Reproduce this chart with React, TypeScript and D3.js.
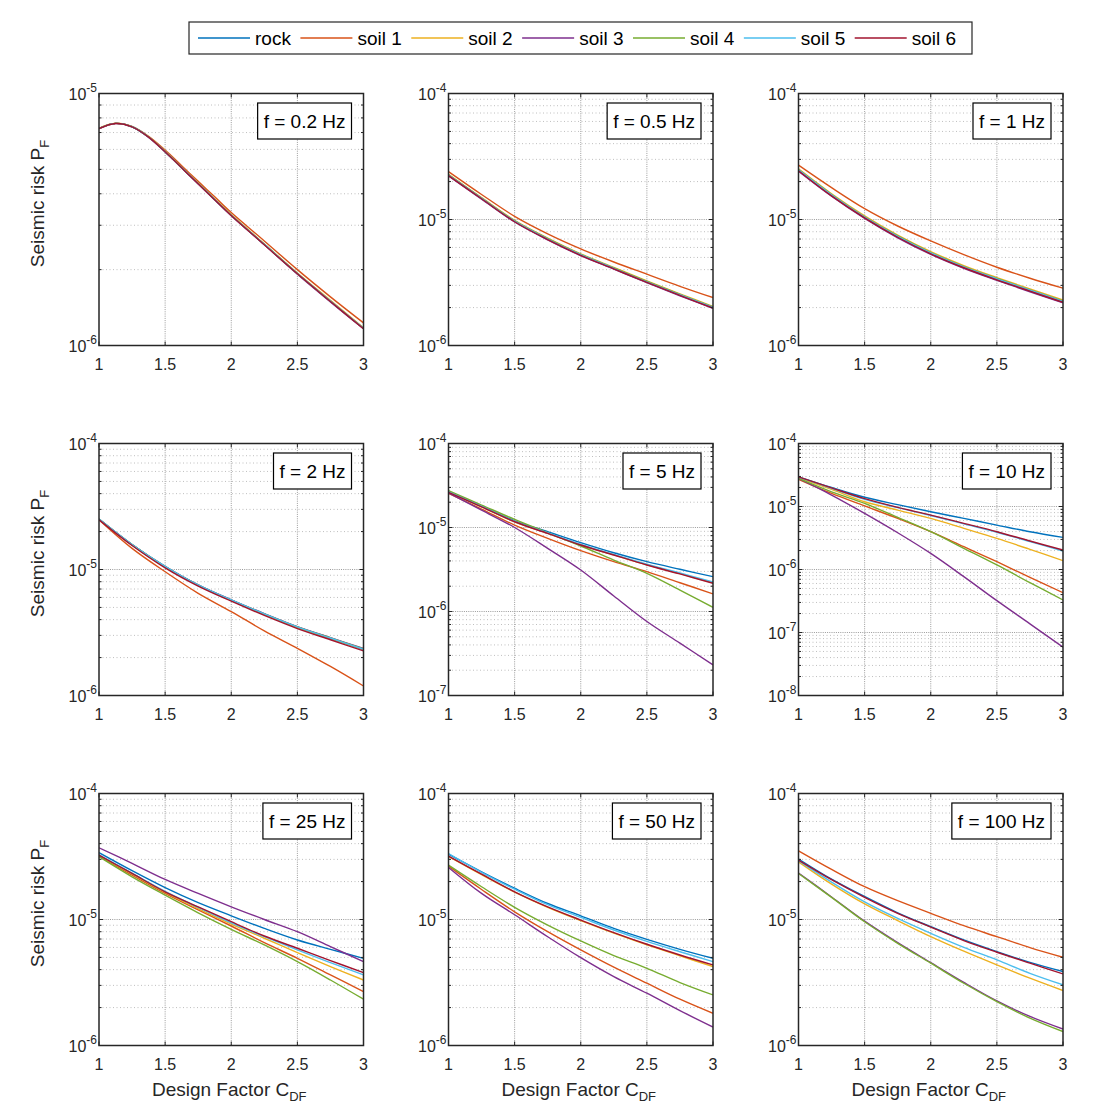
import React, { useEffect, useRef } from 'react';
import * as d3 from 'd3';

const SERIES = ['rock', 'soil 1', 'soil 2', 'soil 3', 'soil 4', 'soil 5', 'soil 6'];
const COLORS = ['#0072BD', '#D95319', '#EDB120', '#7E2F8E', '#77AC30', '#4DBEEE', '#A2142F'];

const CDF = [1, 1.25, 1.5, 1.75, 2, 2.25, 2.5, 2.75, 3];
const CDF_02 = [1, 1.125, 1.25, 1.375, 1.5, 1.625, 1.75, 1.875, 2, 2.25, 2.5, 2.75, 3];
const X_TICKS = [1, 1.5, 2, 2.5, 3];

const FREQ_LABELS = ['f = 0.2 Hz', 'f = 0.5 Hz', 'f = 1 Hz', 'f = 2 Hz', 'f = 5 Hz', 'f = 10 Hz', 'f = 25 Hz', 'f = 50 Hz', 'f = 100 Hz'];
const Y_MIN_EXP = [-6, -6, -6, -6, -7, -8, -6, -6, -6];
const Y_MAX_EXP = [-5, -4, -4, -4, -4, -4, -4, -4, -4];

// series order: rock, soil1 ... soil6
const PF_02HZ = [
  [7.27e-6, 7.61e-6, 7.38e-6, 6.72e-6, 5.88e-6, 5.08e-6, 4.39e-6, 3.8e-6, 3.29e-6, 2.52e-6, 1.93e-6, 1.5e-6, 1.17e-6],
  [7.27e-6, 7.61e-6, 7.4e-6, 6.76e-6, 5.96e-6, 5.17e-6, 4.48e-6, 3.89e-6, 3.37e-6, 2.6e-6, 2.0e-6, 1.56e-6, 1.23e-6],
  [7.28e-6, 7.62e-6, 7.39e-6, 6.74e-6, 5.9e-6, 5.1e-6, 4.41e-6, 3.82e-6, 3.31e-6, 2.53e-6, 1.94e-6, 1.51e-6, 1.175e-6],
  [7.26e-6, 7.6e-6, 7.37e-6, 6.7e-6, 5.86e-6, 5.06e-6, 4.37e-6, 3.78e-6, 3.27e-6, 2.51e-6, 1.92e-6, 1.49e-6, 1.165e-6],
  [7.27e-6, 7.61e-6, 7.38e-6, 6.72e-6, 5.88e-6, 5.08e-6, 4.39e-6, 3.8e-6, 3.29e-6, 2.52e-6, 1.93e-6, 1.5e-6, 1.17e-6],
  [7.27e-6, 7.61e-6, 7.38e-6, 6.72e-6, 5.88e-6, 5.08e-6, 4.39e-6, 3.8e-6, 3.29e-6, 2.52e-6, 1.93e-6, 1.5e-6, 1.17e-6],
  [7.26e-6, 7.6e-6, 7.37e-6, 6.71e-6, 5.87e-6, 5.07e-6, 4.38e-6, 3.79e-6, 3.28e-6, 2.51e-6, 1.925e-6, 1.495e-6, 1.165e-6],
];
const PF_05HZ = [
  [2.25e-5, 1.47e-5, 9.7e-6, 7.0e-6, 5.25e-6, 4.1e-6, 3.2e-6, 2.52e-6, 2.0e-6],
  [2.4e-5, 1.58e-5, 1.06e-5, 7.7e-6, 5.85e-6, 4.6e-6, 3.68e-6, 2.95e-6, 2.4e-6],
  [2.28e-5, 1.49e-5, 9.85e-6, 7.12e-6, 5.34e-6, 4.17e-6, 3.26e-6, 2.57e-6, 2.04e-6],
  [2.22e-5, 1.45e-5, 9.55e-6, 6.9e-6, 5.17e-6, 4.04e-6, 3.15e-6, 2.48e-6, 1.97e-6],
  [2.26e-5, 1.48e-5, 9.75e-6, 7.05e-6, 5.29e-6, 4.13e-6, 3.22e-6, 2.54e-6, 2.02e-6],
  [2.25e-5, 1.47e-5, 9.7e-6, 7.0e-6, 5.26e-6, 4.1e-6, 3.2e-6, 2.53e-6, 2.01e-6],
  [2.23e-5, 1.46e-5, 9.6e-6, 6.93e-6, 5.2e-6, 4.06e-6, 3.17e-6, 2.5e-6, 1.98e-6],
];
const PF_1HZ = [
  [2.47e-5, 1.56e-5, 1.04e-5, 7.31e-6, 5.4e-6, 4.18e-6, 3.36e-6, 2.73e-6, 2.23e-6],
  [2.7e-5, 1.79e-5, 1.22e-5, 8.88e-6, 6.76e-6, 5.26e-6, 4.18e-6, 3.42e-6, 2.85e-6],
  [2.52e-5, 1.6e-5, 1.07e-5, 7.52e-6, 5.56e-6, 4.31e-6, 3.46e-6, 2.81e-6, 2.3e-6],
  [2.42e-5, 1.53e-5, 1.02e-5, 7.16e-6, 5.29e-6, 4.1e-6, 3.29e-6, 2.67e-6, 2.18e-6],
  [2.49e-5, 1.58e-5, 1.05e-5, 7.4e-6, 5.47e-6, 4.23e-6, 3.4e-6, 2.76e-6, 2.26e-6],
  [2.48e-5, 1.57e-5, 1.045e-5, 7.35e-6, 5.43e-6, 4.2e-6, 3.38e-6, 2.75e-6, 2.24e-6],
  [2.44e-5, 1.54e-5, 1.03e-5, 7.23e-6, 5.34e-6, 4.14e-6, 3.32e-6, 2.7e-6, 2.2e-6],
];
const PF_2HZ = [
  [2.5e-5, 1.57e-5, 1.05e-5, 7.5e-6, 5.7e-6, 4.42e-6, 3.48e-6, 2.84e-6, 2.32e-6],
  [2.48e-5, 1.47e-5, 9.6e-6, 6.47e-6, 4.63e-6, 3.26e-6, 2.37e-6, 1.7e-6, 1.19e-6],
  [2.5e-5, 1.57e-5, 1.05e-5, 7.48e-6, 5.68e-6, 4.41e-6, 3.46e-6, 2.83e-6, 2.31e-6],
  [2.52e-5, 1.58e-5, 1.06e-5, 7.55e-6, 5.75e-6, 4.47e-6, 3.52e-6, 2.88e-6, 2.36e-6],
  [2.51e-5, 1.575e-5, 1.055e-5, 7.52e-6, 5.72e-6, 4.44e-6, 3.5e-6, 2.86e-6, 2.34e-6],
  [2.51e-5, 1.58e-5, 1.06e-5, 7.54e-6, 5.73e-6, 4.45e-6, 3.51e-6, 2.86e-6, 2.33e-6],
  [2.48e-5, 1.55e-5, 1.03e-5, 7.38e-6, 5.6e-6, 4.32e-6, 3.4e-6, 2.77e-6, 2.26e-6],
];
const PF_5HZ = [
  [2.67e-5, 1.8e-5, 1.2e-5, 8.9e-6, 6.6e-6, 5.0e-6, 3.92e-6, 3.18e-6, 2.6e-6],
  [2.55e-5, 1.66e-5, 1.07e-5, 7.43e-6, 5.3e-6, 3.92e-6, 2.98e-6, 2.2e-6, 1.62e-6],
  [2.63e-5, 1.76e-5, 1.17e-5, 8.5e-6, 6.2e-6, 4.72e-6, 3.6e-6, 2.82e-6, 2.2e-6],
  [2.59e-5, 1.61e-5, 1.0e-5, 5.65e-6, 3.12e-6, 1.53e-6, 7.6e-7, 4.2e-7, 2.32e-7],
  [2.74e-5, 1.85e-5, 1.25e-5, 8.67e-6, 6.02e-6, 4.1e-6, 2.85e-6, 1.8e-6, 1.12e-6],
  [2.65e-5, 1.78e-5, 1.18e-5, 8.6e-6, 6.3e-6, 4.78e-6, 3.66e-6, 2.88e-6, 2.25e-6],
  [2.62e-5, 1.76e-5, 1.17e-5, 8.5e-6, 6.19e-6, 4.7e-6, 3.58e-6, 2.8e-6, 2.17e-6],
];
const PF_10HZ = [
  [2.96e-5, 2.0e-5, 1.4e-5, 1.07e-5, 8.26e-6, 6.47e-6, 5.07e-6, 3.98e-6, 3.24e-6],
  [2.7e-5, 1.61e-5, 1.02e-5, 6.47e-6, 3.98e-6, 2.3e-6, 1.33e-6, 7.5e-7, 4.29e-7],
  [2.85e-5, 1.87e-5, 1.19e-5, 8.77e-6, 6.47e-6, 4.5e-6, 3.12e-6, 2.09e-6, 1.38e-6],
  [2.79e-5, 1.52e-5, 7.77e-6, 3.83e-6, 1.8e-6, 7.7e-7, 3.2e-7, 1.37e-7, 5.84e-8],
  [2.79e-5, 1.71e-5, 1.12e-5, 6.71e-6, 3.98e-6, 2.17e-6, 1.18e-6, 6.18e-7, 3.29e-7],
  [2.93e-5, 1.95e-5, 1.3e-5, 9.6e-6, 7.2e-6, 5.3e-6, 3.9e-6, 2.78e-6, 1.96e-6],
  [2.96e-5, 1.97e-5, 1.33e-5, 9.67e-6, 7.31e-6, 5.4e-6, 3.98e-6, 2.83e-6, 2.04e-6],
];
const PF_25HZ = [
  [3.39e-5, 2.44e-5, 1.79e-5, 1.36e-5, 1.07e-5, 8.5e-6, 6.88e-6, 5.8e-6, 4.92e-6],
  [3.2e-5, 2.25e-5, 1.61e-5, 1.19e-5, 8.88e-6, 6.55e-6, 4.92e-6, 3.63e-6, 2.68e-6],
  [3.22e-5, 2.3e-5, 1.64e-5, 1.22e-5, 9.2e-6, 7.1e-6, 5.46e-6, 4.23e-6, 3.31e-6],
  [3.71e-5, 2.79e-5, 2.08e-5, 1.61e-5, 1.26e-5, 1.0e-5, 8.0e-6, 6.09e-6, 4.63e-6],
  [3.15e-5, 2.18e-5, 1.56e-5, 1.13e-5, 8.35e-6, 6.28e-6, 4.63e-6, 3.31e-6, 2.33e-6],
  [3.26e-5, 2.33e-5, 1.67e-5, 1.25e-5, 9.4e-6, 7.3e-6, 5.73e-6, 4.55e-6, 3.63e-6],
  [3.24e-5, 2.32e-5, 1.66e-5, 1.26e-5, 9.6e-6, 7.4e-6, 5.91e-6, 4.72e-6, 3.79e-6],
];
const PF_50HZ = [
  [3.3e-5, 2.39e-5, 1.77e-5, 1.34e-5, 1.07e-5, 8.5e-6, 6.96e-6, 5.8e-6, 4.92e-6],
  [2.65e-5, 1.73e-5, 1.15e-5, 8.0e-6, 5.73e-6, 4.18e-6, 3.12e-6, 2.33e-6, 1.8e-6],
  [3.17e-5, 2.27e-5, 1.65e-5, 1.25e-5, 9.8e-6, 7.8e-6, 6.3e-6, 5.15e-6, 4.23e-6],
  [2.59e-5, 1.61e-5, 1.09e-5, 7.3e-6, 4.98e-6, 3.52e-6, 2.6e-6, 1.89e-6, 1.4e-6],
  [2.7e-5, 1.82e-5, 1.25e-5, 9.04e-6, 6.76e-6, 5.17e-6, 4.1e-6, 3.16e-6, 2.52e-6],
  [3.34e-5, 2.37e-5, 1.74e-5, 1.31e-5, 1.04e-5, 8.25e-6, 6.7e-6, 5.55e-6, 4.63e-6],
  [3.19e-5, 2.29e-5, 1.66e-5, 1.26e-5, 9.9e-6, 7.87e-6, 6.36e-6, 5.23e-6, 4.36e-6],
];
const PF_100HZ = [
  [3.02e-5, 2.09e-5, 1.52e-5, 1.13e-5, 8.77e-6, 6.88e-6, 5.56e-6, 4.57e-6, 3.86e-6],
  [3.51e-5, 2.5e-5, 1.82e-5, 1.41e-5, 1.12e-5, 8.93e-6, 7.31e-6, 5.98e-6, 5.01e-6],
  [2.87e-5, 1.91e-5, 1.33e-5, 9.8e-6, 7.31e-6, 5.6e-6, 4.36e-6, 3.42e-6, 2.73e-6],
  [2.34e-5, 1.51e-5, 9.7e-6, 6.55e-6, 4.55e-6, 3.17e-6, 2.26e-6, 1.7e-6, 1.35e-6],
  [2.32e-5, 1.5e-5, 9.6e-6, 6.47e-6, 4.5e-6, 3.12e-6, 2.23e-6, 1.65e-6, 1.29e-6],
  [2.93e-5, 1.98e-5, 1.38e-5, 1.02e-5, 7.77e-6, 6.01e-6, 4.78e-6, 3.74e-6, 3.03e-6],
  [2.96e-5, 2.07e-5, 1.5e-5, 1.12e-5, 8.7e-6, 6.8e-6, 5.5e-6, 4.5e-6, 3.7e-6],
];

const PANEL_DATA = [PF_02HZ, PF_05HZ, PF_1HZ, PF_2HZ, PF_5HZ, PF_10HZ, PF_25HZ, PF_50HZ, PF_100HZ];
const PANEL_X = [CDF_02, CDF, CDF, CDF, CDF, CDF, CDF, CDF, CDF];

const FONT = '"Liberation Sans", Arial, Helvetica, sans-serif';
const INK = '#262626';

export default function App() {
  const ref = useRef<SVGSVGElement | null>(null);

  useEffect(() => {
    const svg = d3.select(ref.current);
    svg.selectAll('*').remove();

    const COL_X = [99, 448.5, 798.5];
    const ROW_Y = [93.5, 443.5, 793.5];
    const PW = 264.5;
    const PH = 252;

    const defs = svg.append('defs');

    PANEL_DATA.forEach((data, i) => {
      const col = i % 3;
      const row = Math.floor(i / 3);
      const x0 = COL_X[col];
      const y0 = ROW_Y[row];
      const minE = Y_MIN_EXP[i];
      const maxE = Y_MAX_EXP[i];
      const xs = d3.scaleLinear().domain([1, 3]).range([x0, x0 + PW]);
      const ys = d3.scaleLog().domain([Math.pow(10, minE), Math.pow(10, maxE)]).range([y0 + PH, y0]);
      const g = svg.append('g');

      g.append('rect').attr('x', x0).attr('y', y0).attr('width', PW).attr('height', PH).attr('fill', '#fff');

      // minor grid
      for (let e = minE; e < maxE; e++) {
        for (let m = 2; m <= 9; m++) {
          const y = ys(m * Math.pow(10, e));
          g.append('line').attr('x1', x0).attr('x2', x0 + PW).attr('y1', y).attr('y2', y)
            .attr('stroke', '#b8b8b8').attr('stroke-width', 0.9).attr('stroke-dasharray', '1,2.5');
        }
      }
      // major grid
      for (let e = minE + 1; e < maxE; e++) {
        const y = ys(Math.pow(10, e));
        g.append('line').attr('x1', x0).attr('x2', x0 + PW).attr('y1', y).attr('y2', y)
          .attr('stroke', '#9a9a9a').attr('stroke-width', 1).attr('stroke-dasharray', '1,1.2');
      }
      X_TICKS.slice(1, -1).forEach((t) => {
        const x = xs(t);
        g.append('line').attr('x1', x).attr('x2', x).attr('y1', y0).attr('y2', y0 + PH)
          .attr('stroke', '#9a9a9a').attr('stroke-width', 1).attr('stroke-dasharray', '1,1.2');
      });

      // curves
      const clipId = `clip${i}`;
      defs.append('clipPath').attr('id', clipId).append('rect')
        .attr('x', x0).attr('y', y0).attr('width', PW).attr('height', PH);
      const xv = PANEL_X[i];
      const line = d3.line<number>()
        .x((_, k) => xs(xv[k]))
        .y((d) => ys(d))
        .curve(d3.curveCatmullRom.alpha(0.5));
      const lg = g.append('g').attr('clip-path', `url(#${clipId})`);
      data.forEach((series, s) => {
        lg.append('path').attr('d', line(series) as string).attr('fill', 'none')
          .attr('stroke', COLORS[s]).attr('stroke-width', 1.4);
      });

      // ticks
      const tk = g.append('g').attr('stroke', INK).attr('stroke-width', 1);
      X_TICKS.forEach((t) => {
        const x = xs(t);
        tk.append('line').attr('x1', x).attr('x2', x).attr('y1', y0 + PH).attr('y2', y0 + PH - 4);
        tk.append('line').attr('x1', x).attr('x2', x).attr('y1', y0).attr('y2', y0 + 4);
      });
      for (let e = minE; e <= maxE; e++) {
        const y = ys(Math.pow(10, e));
        tk.append('line').attr('x1', x0).attr('x2', x0 + 4).attr('y1', y).attr('y2', y);
        tk.append('line').attr('x1', x0 + PW).attr('x2', x0 + PW - 4).attr('y1', y).attr('y2', y);
        if (e < maxE) {
          for (let m = 2; m <= 9; m++) {
            const ym = ys(m * Math.pow(10, e));
            tk.append('line').attr('x1', x0).attr('x2', x0 + 2.5).attr('y1', ym).attr('y2', ym);
            tk.append('line').attr('x1', x0 + PW).attr('x2', x0 + PW - 2.5).attr('y1', ym).attr('y2', ym);
          }
        }
      }

      // axes box
      g.append('rect').attr('x', x0).attr('y', y0).attr('width', PW).attr('height', PH)
        .attr('fill', 'none').attr('stroke', INK).attr('stroke-width', 1.5);

      // x tick labels
      X_TICKS.forEach((t) => {
        g.append('text').attr('x', xs(t)).attr('y', y0 + PH + 24)
          .attr('text-anchor', 'middle').attr('font-family', FONT).attr('font-size', 16)
          .attr('fill', INK).text(d3.format('')(t));
      });
      // y tick labels
      for (let e = minE; e <= maxE; e++) {
        const y = ys(Math.pow(10, e));
        const tx = g.append('text').attr('x', x0 - 2).attr('y', y + 6)
          .attr('text-anchor', 'end').attr('font-family', FONT).attr('font-size', 16).attr('fill', INK);
        tx.append('tspan').text('10');
        tx.append('tspan').attr('dy', -8).attr('font-size', 12).text(String(e));
      }

      // annotation box
      const at = g.append('text').attr('font-family', FONT).attr('font-size', 19).attr('fill', '#000')
        .attr('text-anchor', 'end').attr('x', x0 + PW - 18).attr('y', y0 + 34).text(FREQ_LABELS[i]);
      const bb = (at.node() as SVGTextElement).getBBox();
      g.insert('rect', () => at.node() as any)
        .attr('x', bb.x - 6).attr('y', y0 + 9.5).attr('width', bb.width + 12).attr('height', 36)
        .attr('fill', '#fff').attr('stroke', '#000').attr('stroke-width', 1.2);

      // axis labels
      if (col === 0) {
        const yl = g.append('text').attr('font-family', FONT).attr('font-size', 19).attr('fill', INK)
          .attr('text-anchor', 'middle')
          .attr('transform', `translate(44,${y0 + 110}) rotate(-90)`);
        yl.append('tspan').text('Seismic risk P');
        yl.append('tspan').attr('dy', 5).attr('font-size', 13).text('F');
      }
      if (row === 2) {
        const xl = g.append('text').attr('font-family', FONT).attr('font-size', 19).attr('fill', INK)
          .attr('text-anchor', 'middle')
          .attr('x', x0 + PW / 2 - 2).attr('y', y0 + PH + 50);
        xl.append('tspan').text('Design Factor C');
        xl.append('tspan').attr('dy', 5).attr('font-size', 13).text('DF');
      }
    });

    // legend
    const leg = svg.append('g');
    const box = leg.append('rect').attr('x', 189).attr('y', 22).attr('width', 783).attr('height', 32)
      .attr('fill', '#fff').attr('stroke', INK).attr('stroke-width', 1.2);
    let cx = 198;
    SERIES.forEach((name, s) => {
      leg.append('line').attr('x1', cx).attr('x2', cx + 52).attr('y1', 38).attr('y2', 38)
        .attr('stroke', COLORS[s]).attr('stroke-width', 1.4);
      const t = leg.append('text').attr('x', cx + 57).attr('y', 45).attr('font-family', FONT)
        .attr('font-size', 19).attr('fill', '#000').text(name);
      const w = (t.node() as SVGTextElement).getComputedTextLength();
      cx = cx + 57 + w + 9.5;
    });
    box.attr('width', Math.max(783, cx - 189 - 2));
  }, []);

  return (
    <svg ref={ref} width={1100} height={1115}
      style={{ position: 'absolute', left: 0, top: 0, background: '#fff' }} />
  );
}
